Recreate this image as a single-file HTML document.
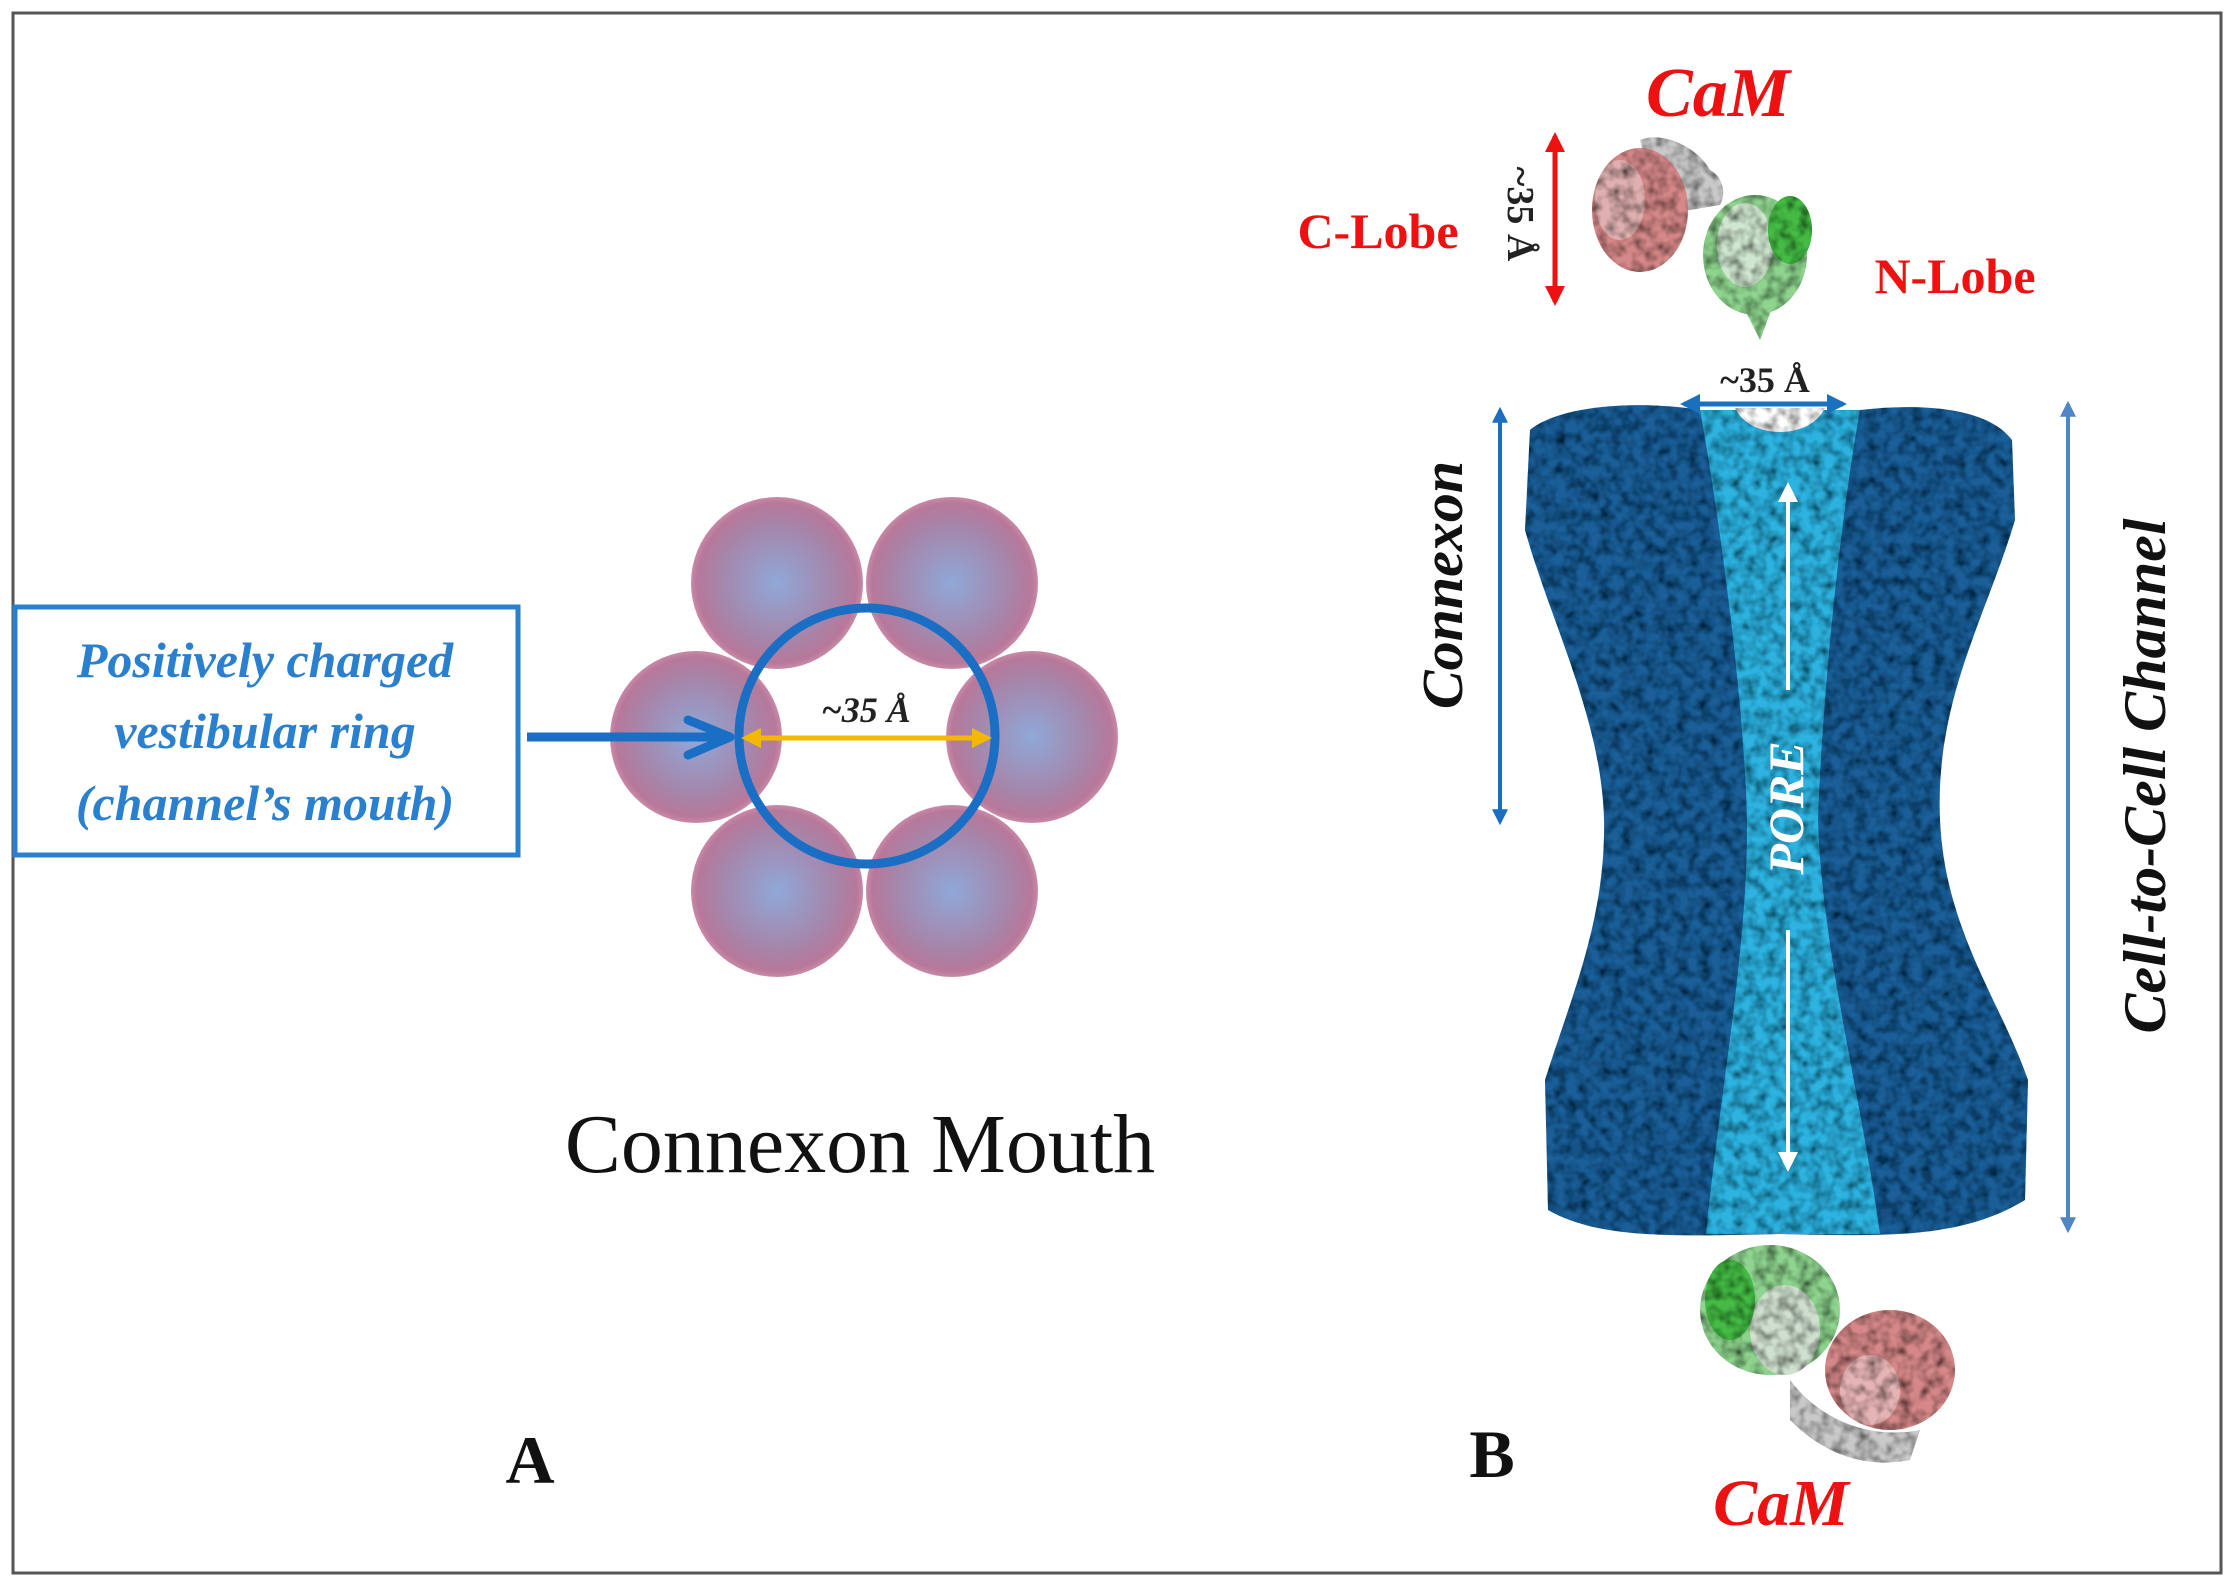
<!DOCTYPE html>
<html><head><meta charset="utf-8"><style>
html,body{margin:0;padding:0;background:#fff}
svg{display:block}
text{font-family:"Liberation Serif",serif}
</style></head><body>
<svg width="2234" height="1586" viewBox="0 0 2234 1586" xmlns="http://www.w3.org/2000/svg">
<defs>
<radialGradient id="sph" cx="50%" cy="50%" r="50%">
<stop offset="0" stop-color="#8fa8d8"/>
<stop offset="0.7" stop-color="#a784a8"/>
<stop offset="0.93" stop-color="#b7789a"/>
<stop offset="1" stop-color="#c98aa8"/>
</radialGradient>
<filter id="tex" x="0" y="0" width="100%" height="100%">
<feTurbulence type="fractalNoise" baseFrequency="0.09" numOctaves="2" seed="3" result="n"/>
<feColorMatrix in="n" type="matrix" values="0 0 0 0 0  0 0 0 0 0  0 0 0 0 0  0 0 0 1.6 -0.55" result="a"/>
<feComposite in="a" in2="SourceGraphic" operator="in" result="d"/>
<feMerge><feMergeNode in="SourceGraphic"/><feMergeNode in="d"/></feMerge>
</filter>
<marker id="abl" viewBox="0 0 10 10" refX="8" refY="5" markerWidth="4" markerHeight="4" orient="auto-start-reverse"><path d="M0,0 L10,5 L0,10 z" fill="#1a6fbf"/></marker>
<marker id="alb" viewBox="0 0 10 10" refX="8" refY="5" markerWidth="4" markerHeight="4" orient="auto-start-reverse"><path d="M0,0 L10,5 L0,10 z" fill="#4f86c6"/></marker>
<marker id="ared" viewBox="0 0 10 10" refX="8" refY="5" markerWidth="4" markerHeight="4" orient="auto-start-reverse"><path d="M0,0 L10,5 L0,10 z" fill="#ee1111"/></marker>
<marker id="ayel" viewBox="0 0 10 10" refX="8" refY="5" markerWidth="4" markerHeight="4" orient="auto-start-reverse"><path d="M0,0 L10,5 L0,10 z" fill="#f5b800"/></marker>
<marker id="awh" viewBox="0 0 10 10" refX="8" refY="5" markerWidth="5" markerHeight="5" orient="auto-start-reverse"><path d="M0,0 L10,5 L0,10 z" fill="#fff"/></marker>
</defs>

<rect x="13" y="13" width="2208" height="1560" fill="none" stroke="#555" stroke-width="3"/>

<!-- Panel A -->
<rect x="15" y="607" width="503" height="248" fill="none" stroke="#2a80cf" stroke-width="5"/>
<g font-weight="bold" font-style="italic" fill="#2a80cf" font-size="50" text-anchor="middle">
<text x="265" y="677">Positively charged</text>
<text x="265" y="748">vestibular ring</text>
<text x="265" y="820">(channel’s mouth)</text>
</g>

<circle cx="777" cy="583" r="86" fill="url(#sph)"/>
<circle cx="952" cy="583" r="86" fill="url(#sph)"/>
<circle cx="696" cy="737" r="86" fill="url(#sph)"/>
<circle cx="1032" cy="737" r="86" fill="url(#sph)"/>
<circle cx="777" cy="891" r="86" fill="url(#sph)"/>
<circle cx="952" cy="891" r="86" fill="url(#sph)"/>
<circle cx="866" cy="737" r="122" fill="#fff"/>
<circle cx="777" cy="583" r="86" fill="url(#sph)" clip-path="none" opacity="0"/>
<path d="M866,737 m-122,0 a122,122 0 1,0 244,0 a122,122 0 1,0 -244,0" fill="none"/>
<!-- inner petals re-drawn inside ring -->
<g clip-path="url(#ringclip)">
</g>
<clipPath id="ringclip"><circle cx="866" cy="737" r="128"/></clipPath>
<g clip-path="url(#ringclip)">
<circle cx="777" cy="583" r="86" fill="url(#sph)"/>
<circle cx="952" cy="583" r="86" fill="url(#sph)"/>
<circle cx="696" cy="737" r="86" fill="url(#sph)"/>
<circle cx="1032" cy="737" r="86" fill="url(#sph)"/>
<circle cx="777" cy="891" r="86" fill="url(#sph)"/>
<circle cx="952" cy="891" r="86" fill="url(#sph)"/>
</g>
<circle cx="867" cy="736" r="128" fill="none" stroke="#1a6fc4" stroke-width="9"/>
<line x1="527" y1="737" x2="720" y2="737" stroke="#1a6fc4" stroke-width="9"/>
<polyline points="688,720 730,737 688,755" fill="none" stroke="#1a6fc4" stroke-width="9" stroke-linecap="round" stroke-linejoin="round"/>
<line x1="745" y1="738" x2="988" y2="738" stroke="#f5b800" stroke-width="5" marker-start="url(#ayel)" marker-end="url(#ayel)"/>
<text x="866" y="722" font-size="36" font-weight="bold" font-style="italic" text-anchor="middle" fill="#222">~35 Å</text>

<text x="860" y="1172" font-size="84" text-anchor="middle" fill="#111">Connexon Mouth</text>
<text x="530" y="1483" font-size="68" font-weight="bold" text-anchor="middle" fill="#111">A</text>

<!-- Panel B -->
<text x="1718" y="116" font-size="70" font-weight="bold" font-style="italic" text-anchor="middle" fill="#ee1111">CaM</text>
<text x="1378" y="248" font-size="50" font-weight="bold" text-anchor="middle" fill="#ee1111">C-Lobe</text>
<text x="1955" y="293" font-size="50" font-weight="bold" text-anchor="middle" fill="#ee1111">N-Lobe</text>
<line x1="1555" y1="136" x2="1555" y2="302" stroke="#ee1111" stroke-width="5" marker-start="url(#ared)" marker-end="url(#ared)"/>
<text transform="translate(1508,214) rotate(90)" font-size="38" font-weight="bold" text-anchor="middle" fill="#222">~35 Å</text>

<!-- top CaM -->
<g filter="url(#tex)">
<path d="M1640,140 C1665,130 1700,150 1710,170 C1720,175 1728,190 1720,205 L1660,215 Z" fill="#c9c9c9"/>
<ellipse cx="1640" cy="210" rx="48" ry="62" fill="#d68888"/>
<ellipse cx="1620" cy="200" rx="25" ry="40" fill="#e0b0b0"/>
<ellipse cx="1755" cy="255" rx="52" ry="60" fill="#8ed48e"/>
<ellipse cx="1745" cy="245" rx="28" ry="42" fill="#cfe6cf"/>
<ellipse cx="1790" cy="230" rx="22" ry="34" fill="#44bb44"/>
<path d="M1740,300 L1760,340 L1775,300 Z" fill="#8ed48e"/>
</g>

<!-- channel -->
<g filter="url(#tex)">
<path d="M1530,430 C1560,405 1640,400 1700,410 L1860,410 C1930,402 1990,410 2012,440 L2015,520 C1985,620 1935,700 1940,820 C1945,930 2000,1000 2028,1080 L2025,1200 C1960,1240 1880,1236 1780,1234 C1680,1236 1600,1240 1548,1210 L1545,1080 C1570,1000 1606,920 1604,820 C1602,720 1550,620 1525,530 Z" fill="#1f5e98"/>
<path d="M1700,410 L1860,410 C1840,520 1822,700 1818,820 C1822,950 1860,1090 1880,1234 L1706,1234 C1720,1090 1748,950 1747,820 C1744,700 1720,520 1700,410 Z" fill="#2fb2e0"/>
<path d="M1735,408 C1750,440 1810,440 1825,408 Z" fill="#fff"/>
</g>
<line x1="1788" y1="486" x2="1788" y2="690" stroke="#fff" stroke-width="4" marker-start="url(#awh)"/>
<line x1="1788" y1="930" x2="1788" y2="1168" stroke="#fff" stroke-width="4" marker-end="url(#awh)"/>
<text transform="translate(1803,808) rotate(-90)" font-size="50" font-weight="bold" font-style="italic" text-anchor="middle" fill="#fff">PORE</text>

<line x1="1684" y1="404" x2="1843" y2="404" stroke="#1a6fbf" stroke-width="5" marker-start="url(#abl)" marker-end="url(#abl)"/>
<text x="1765" y="392" font-size="36" font-weight="bold" text-anchor="middle" fill="#222">~35 Å</text>

<line x1="1500" y1="410" x2="1500" y2="822" stroke="#1a6fbf" stroke-width="4" marker-start="url(#abl)" marker-end="url(#abl)"/>
<text transform="translate(1462,585) rotate(-90)" font-size="58" font-weight="bold" font-style="italic" text-anchor="middle" fill="#111">Connexon</text>

<line x1="2068" y1="404" x2="2068" y2="1230" stroke="#4f86c6" stroke-width="4" marker-start="url(#alb)" marker-end="url(#alb)"/>
<text transform="translate(2165,776) rotate(-90)" font-size="60" font-weight="bold" font-style="italic" text-anchor="middle" fill="#111">Cell-to-Cell Channel</text>

<!-- bottom CaM -->
<g filter="url(#tex)">
<ellipse cx="1770" cy="1310" rx="70" ry="65" fill="#8ed48e"/>
<ellipse cx="1785" cy="1330" rx="35" ry="45" fill="#cfe0cf"/>
<ellipse cx="1730" cy="1300" rx="25" ry="40" fill="#44bb44"/>
<ellipse cx="1890" cy="1370" rx="65" ry="60" fill="#d68888"/>
<ellipse cx="1870" cy="1390" rx="30" ry="35" fill="#e6b4b4"/>
<path d="M1790,1380 C1820,1420 1870,1440 1920,1430 L1910,1460 C1860,1470 1820,1450 1790,1420 Z" fill="#c9c9c9"/>
</g>
<text x="1781" y="1525" font-size="66" font-weight="bold" font-style="italic" text-anchor="middle" fill="#ee1111">CaM</text>
<text x="1492" y="1477" font-size="68" font-weight="bold" text-anchor="middle" fill="#111">B</text>
</svg>
</body></html>
